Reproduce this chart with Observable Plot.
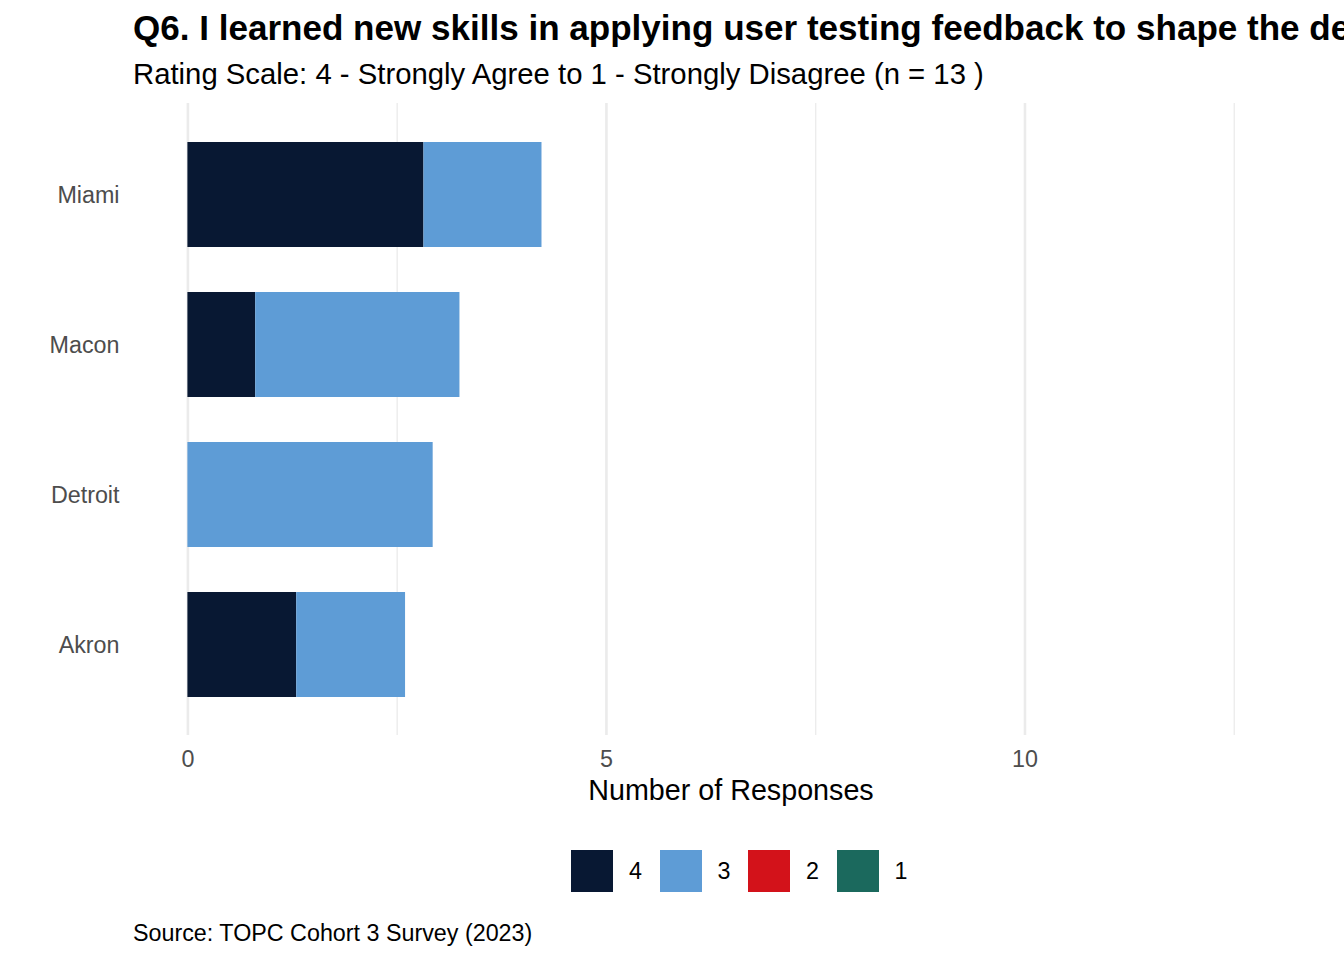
<!DOCTYPE html>
<html>
<head>
<meta charset="utf-8">
<script src="https://cdn.jsdelivr.net/npm/d3@7"></script>
<script src="https://cdn.jsdelivr.net/npm/@observablehq/plot@0.6"></script>
<style>
  html, body { margin: 0; padding: 0; background: #ffffff; }
  body { width: 1344px; height: 960px; position: relative; overflow: hidden;
         font-family: "Liberation Sans", Arial, Helvetica, sans-serif; }
  .abs { position: absolute; white-space: nowrap; line-height: 1; }
  #title { left: 133px; top: 9.5px; font-size: 35.05px; font-weight: bold; color: #000; }
  #subtitle { left: 133px; top: 58.5px; font-size: 29.3px; color: #000; }
  #xlabel { left: 0; width: 1462px; text-align: center; top: 776px; font-size: 28.7px; color: #000; }
  #caption { left: 133px; top: 921.5px; font-size: 23.3px; color: #000; }
  .swatch { position: absolute; width: 42px; height: 42px; top: 850px; }
  .legtext { position: absolute; top: 860px; font-size: 23.3px; line-height: 1; color: #000; }
  #chart { position: absolute; left: 0; top: 0; }
</style>
</head>
<body>
<div id="title" class="abs"></div>
<div id="subtitle" class="abs"></div>
<div id="chart"></div>
<div id="xlabel" class="abs"></div>
<div id="legend"></div>
<div id="caption" class="abs"></div>
<script>
// ---- Data ----
const titleText = "Q6. I learned new skills in applying user testing feedback to shape the design of the product";
const subtitleText = "Rating Scale: 4 - Strongly Agree to 1 - Strongly Disagree (n = 13 )";
const captionText = "Source: TOPC Cohort 3 Survey (2023)";
const xLabel = "Number of Responses";

const cities = ["Miami", "Macon", "Detroit", "Akron"];
const ratings = ["4", "3", "2", "1"];
const count4 = [2.82, 0.81, 0, 1.30];
const count3 = [1.41, 2.44, 2.93, 1.30];
const count2 = [0, 0, 0, 0];
const count1 = [0, 0, 0, 0];
const ratingColors = ["#081833", "#5e9cd6", "#d3121a", "#1b695d"];
const xMajorTicks = [0, 5, 10];
const xMinorTicks = [2.5, 7.5, 12.5];

// ---- Build table ----
const seriesByRating = {"4": count4, "3": count3, "2": count2, "1": count1};
const table = [];
for (const r of ratings) {
  cities.forEach((c, i) => table.push({city: c, rating: r, count: seriesByRating[r][i]}));
}

document.getElementById("title").textContent = titleText;
document.getElementById("subtitle").textContent = subtitleText;
document.getElementById("caption").textContent = captionText;
document.getElementById("xlabel").textContent = xLabel;

const font = '"Liberation Sans", Arial, Helvetica, sans-serif';

const chart = Plot.plot({
  width: 1344,
  height: 820,
  marginLeft: 133,
  marginRight: 14,
  marginTop: 103,
  marginBottom: 85,
  style: {fontFamily: font, background: "transparent"},
  x: {domain: [-0.65, 13.65], label: null},
  y: {domain: cities, paddingInner: 0.3, paddingOuter: 0.25, label: null},
  color: {domain: ratings, range: ratingColors},
  marks: [
    Plot.ruleX(xMinorTicks, {stroke: "#ebebeb", strokeWidth: 1.3}),
    Plot.ruleX(xMajorTicks, {stroke: "#ebebeb", strokeWidth: 2.6}),
    Plot.barX(table, Plot.stackX({
      x: "count", y: "city", fill: "rating", order: ratings
    })),
    Plot.axisX({ticks: xMajorTicks, tickSize: 0, tickPadding: 14.5, fontSize: 23.3,
                color: "#4d4d4d", label: null}),
    Plot.axisY({tickSize: 0, tickPadding: 14, dy: 1, fontSize: 23.3, color: "#4d4d4d", label: null})
  ]
});
document.getElementById("chart").appendChild(chart);

// ---- Legend ----
const legend = document.getElementById("legend");
const legendLeft = [571, 659.5, 748, 836.5];
ratings.forEach((r, i) => {
  const sw = document.createElement("div");
  sw.className = "swatch";
  sw.style.left = legendLeft[i] + "px";
  sw.style.background = ratingColors[i];
  legend.appendChild(sw);
  const t = document.createElement("div");
  t.className = "legtext";
  t.style.left = (legendLeft[i] + 58) + "px";
  t.textContent = r;
  legend.appendChild(t);
});
</script>
</body>
</html>
